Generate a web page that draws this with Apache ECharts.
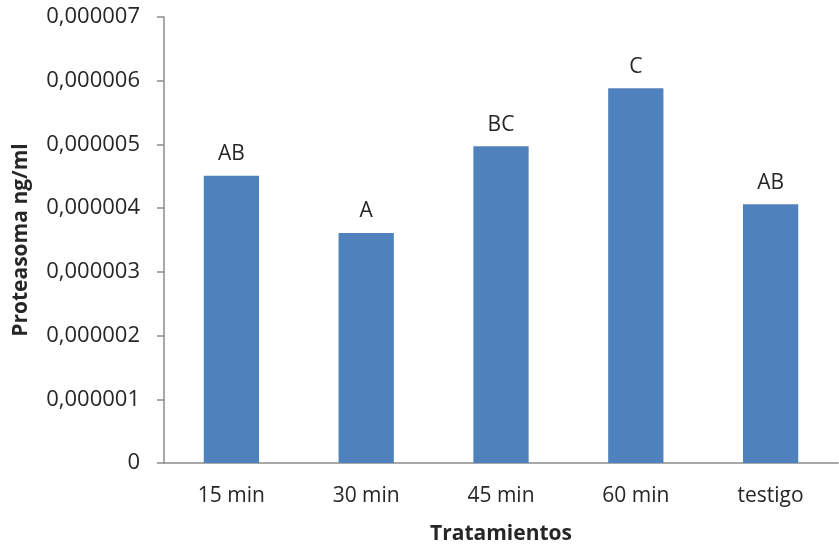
<!DOCTYPE html>
<html><head><meta charset="utf-8">
<script src="https://cdn.jsdelivr.net/npm/echarts@6/dist/echarts.min.js"></script>
<style>html,body{margin:0;padding:0;background:#fff}#c{width:839px;height:550px}</style>
</head><body><div id="c"></div>
<script>
const categories = ['15 min', '30 min', '45 min', '60 min', 'testigo'];
const values = [0.00000451, 0.00000361, 0.00000497, 0.00000588, 0.00000406];
const letters = ['AB', 'A', 'BC', 'C', 'AB'];
const yMin = 0, yMax = 0.000007, yStep = 0.000001;

const chart = echarts.init(document.getElementById('c'), null, {renderer: 'canvas'});
const font = '"Open Sans", "DejaVu Sans", sans-serif';
chart.setOption({
  animation: false,
  grid: {left: 164, right: 1, top: 17, bottom: 83},
  xAxis: {
    type: 'category', data: categories,
    axisLine: {lineStyle: {color: '#8c8c8c', width: 1.5}},
    axisTick: {show: false},
    axisLabel: {color: '#262626', fontSize: 21, fontFamily: font, margin: 23},
    name: 'Tratamientos', nameLocation: 'middle', nameGap: 61,
    nameTextStyle: {color: '#262626', fontSize: 21, fontWeight: 'bold', fontFamily: font}
  },
  yAxis: {
    type: 'value', min: yMin, max: yMax, interval: yStep,
    axisLine: {show: true, lineStyle: {color: '#8c8c8c', width: 1.5}},
    axisTick: {show: true, length: 7, lineStyle: {color: '#8c8c8c', width: 1.5}},
    splitLine: {show: false},
    axisLabel: {color: '#262626', fontSize: 22, fontFamily: font, margin: 24,
      formatter: v => v === 0 ? '0' : v.toFixed(6).replace('.', ',')},
    name: 'Proteasoma ng/ml', nameLocation: 'middle', nameGap: 132,
    nameTextStyle: {color: '#262626', fontSize: 21, fontWeight: 'bold', fontFamily: font}
  },
  series: [{
    type: 'bar', data: values, barWidth: '41%',
    itemStyle: {color: '#4F81BD'},
    label: {show: true, position: 'top', distance: 11, color: '#262626', fontSize: 21, fontFamily: font,
      formatter: p => letters[p.dataIndex]}
  }]
});
</script></body></html>
